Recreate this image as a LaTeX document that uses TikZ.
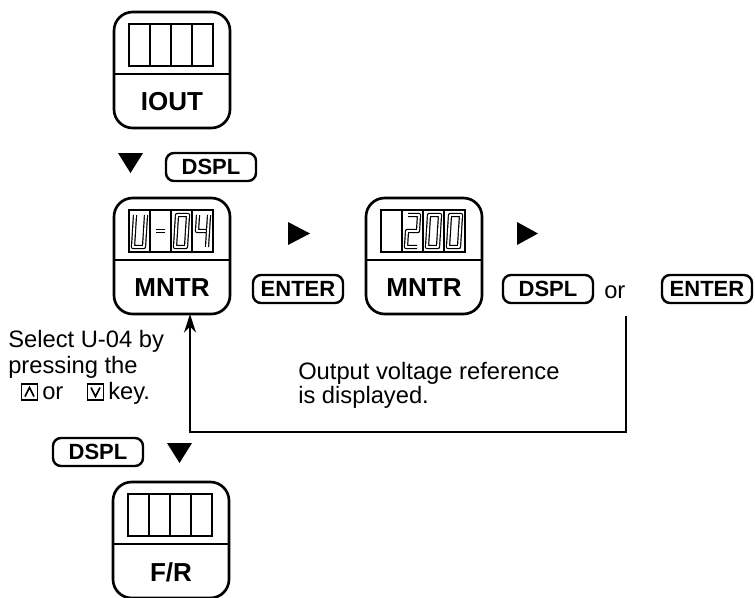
\documentclass[tikz,border=0pt]{standalone}
\usepackage{fontspec}
\setmainfont{Liberation Sans}
\usetikzlibrary{
  arrows.meta,
  calc
}

% face interna de um painel: visor de 4 casas, divisória e rótulo
\newcommand{\panelface}[2]{%
  \draw[line width=1.7pt] ($(#1.north west)+(15,12)$) rectangle ($(#1.north west)+(99,54)$);
  \foreach \c in {36,57,78}
    \draw[line width=1.4pt] ($(#1.north west)+(\c,12)$) -- ($(#1.north west)+(\c,54)$);
  \draw[line width=1.3pt] ($(#1.north west)+(0,62)$) -- ($(#1.north east)+(0,62)$);
  \node[panellabel] (#1-label) at ($(#1.north)+(0,90)$) {#2};
}
% dígitos de sete segmentos (coordenadas da casa)
\newcommand{\digitU}{\draw[seg] (6,5) -- (4,37) -- (15,37) -- (17,5);}
\newcommand{\digitDash}{\draw[seg] (6,21) -- (15,21);}
\newcommand{\digitZero}{\draw[seg] (6,5) -- (17,5) -- (15,37) -- (4,37) -- cycle;}
\newcommand{\digitFour}{\draw[seg] (6,5) -- (5,21) -- (16,21); \draw[seg] (17,5) -- (15,37);}
\newcommand{\digitTwo}{\draw[seg] (6,5) -- (17,5) -- (16,21) -- (5,21) -- (4,37) -- (15,37);}

\begin{document}
\begin{tikzpicture}[
        x=0.75pt, y=-0.75pt,
        panel/.style={draw, line width=2pt, rounded corners=14pt, minimum width=87pt,
            minimum height=87pt, inner sep=0pt, outer sep=0pt},
        keycap/.style={draw, line width=1.8pt, rounded corners=6pt, minimum width=67.5pt,
            minimum height=21pt, inner sep=0pt, font=\fontsize{16.5}{18}\selectfont\bfseries},
        panellabel/.style={inner sep=0pt, font=\fontsize{19.5}{22}\selectfont\bfseries},
        note/.style={align=left, anchor=north west, inner sep=0pt},
        word/.style={anchor=base west, inner sep=0pt, font=\fontsize{17.8}{19.5}\selectfont},
        iconkey/.style={draw, line width=1.3pt, minimum size=12pt, inner sep=0pt},
        seg/.style={double, double distance=1.4pt, line width=0.9pt, line join=round},
        flow/.style={line width=1.6pt, -{Stealth[length=14pt,width=9pt]}}
    ]
        \useasboundingbox (0,0) rectangle (755,597);

        % painéis
        \node[panel] (iout) at (172,70) {};
        \panelface{iout}{IOUT}
        \node[panel] (mntrA) at (172,256) {};
        \panelface{mntrA}{MNTR}
        \node[panel] (mntrB) at (424,256) {};
        \panelface{mntrB}{MNTR}
        \node[panel] (fr) at (171,540) {};
        \panelface{fr}{F/R}

        % visor U-04
        \begin{scope}[shift={($(mntrA.north west)+(15,12)$)}]
            \digitU
            \begin{scope}[shift={(21,0)}]\digitDash\end{scope}
            \begin{scope}[shift={(42,0)}]\digitZero\end{scope}
            \begin{scope}[shift={(63,0)}]\digitFour\end{scope}
        \end{scope}
        % visor 200
        \begin{scope}[shift={($(mntrB.north west)+(15,12)$)}]
            \begin{scope}[shift={(21,0)}]\digitTwo\end{scope}
            \begin{scope}[shift={(42,0)}]\digitZero\end{scope}
            \begin{scope}[shift={(63,0)}]\digitZero\end{scope}
        \end{scope}

        % teclas
        \node[keycap] (dsplA) at (211,167) {DSPL};
        \node[keycap] (enterA) at (298,289) {ENTER};
        \node[keycap] (dsplB) at (548,289) {DSPL};
        \node[word] (orword) at (604,298) {or};
        \node[keycap] (enterB) at (707,289) {ENTER};
        \node[keycap] (dsplC) at (98,452) {DSPL};

        % marcas de sequência
        \fill (118,153) -- (143,153) -- (130.5,173) -- cycle;
        \fill (288,222) -- (310,233.5) -- (288,245) -- cycle;
        \fill (517,222) -- (538,233.5) -- (517,245) -- cycle;
        \fill (167,443) -- (192,443) -- (179.5,463) -- cycle;

        % textos
        \node[note, font=\fontsize{17.8}{19.5}\selectfont] (selecttext) at (8,330)
            {Select U-04 by\\pressing the};
        \node[iconkey] (upkey) at (29.5,392) {};
        \draw[line width=1.3pt] ($(upkey.center)+(-4.5,4.5)$) -- ($(upkey.center)+(0,-4.5)$) -- ($(upkey.center)+(4.5,4.5)$);
        \node[word] (orsmall) at (42,399) {or};
        \node[iconkey] (downkey) at (95.5,392) {};
        \draw[line width=1.3pt] ($(downkey.center)+(-4.5,-4.5)$) -- ($(downkey.center)+(0,4.5)$) -- ($(downkey.center)+(4.5,-4.5)$);
        \node[word] (keyword) at (108,399) {key.};
        \node[note, font=\fontsize{17.8}{18}\selectfont] (outtext) at (298,362)
            {Output voltage reference\\is displayed.};

        % retorno
        \coordinate (retstart) at (626,316);
        \coordinate (retturn) at (190,432);
        \draw[flow] (retstart) |- (retturn) -- (retturn |- mntrA.south);
    \end{tikzpicture}
\end{document}
